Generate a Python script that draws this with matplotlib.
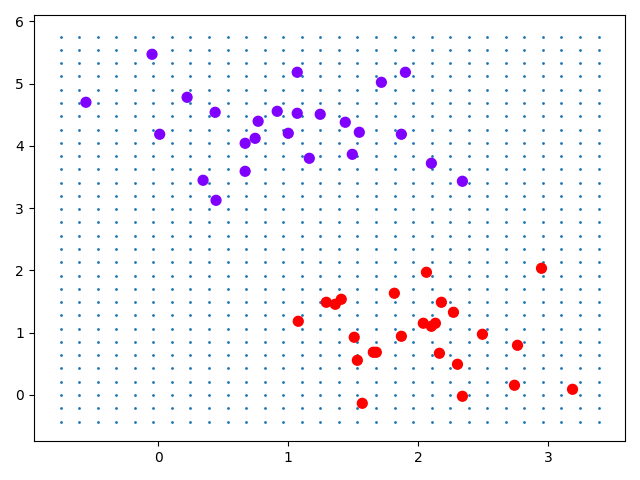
import numpy as np
import matplotlib
matplotlib.use("Agg")
import matplotlib.pyplot as plt

grid_x = [-0.753,-0.610,-0.467,-0.324,-0.182,-0.039,0.104,0.247,0.390,0.533,0.676,0.819,0.961,1.104,1.247,
          1.390,1.533,1.676,1.819,1.961,2.104,2.247,2.390,2.533,2.676,2.819,2.961,3.104,3.247,3.390]
grid_y = [-0.430,-0.217,-0.004,0.210,0.423,0.636,0.849,1.063,1.276,1.489,1.702,1.916,2.129,2.342,2.555,
          2.769,2.982,3.195,3.408,3.622,3.835,4.048,4.261,4.475,4.688,4.901,5.114,5.328,5.541,5.754]

purple_x = [-0.558,-0.049,0.010,0.221,0.437,0.344,0.444,0.668,0.668,0.745,0.768,0.915,1.000,1.069,1.069,
            1.162,1.246,1.439,1.493,1.547,1.717,1.871,1.902,2.102,2.341]
purple_y = [4.699,5.470,4.185,4.779,4.538,3.446,3.124,4.040,3.590,4.120,4.394,4.554,4.201,5.181,4.522,
            3.799,4.506,4.378,3.863,4.217,5.020,4.185,5.181,3.719,3.430]
red_x = [1.077,1.293,1.362,1.408,1.508,1.532,1.570,1.655,1.678,1.817,1.871,2.040,2.064,2.102,2.133,
         2.164,2.179,2.272,2.303,2.341,2.495,2.742,2.765,2.950,3.189]
red_y = [1.181,1.486,1.454,1.534,0.924,0.554,-0.137,0.683,0.683,1.631,0.940,1.149,1.968,1.100,1.149,
         0.667,1.486,1.325,0.490,-0.024,0.972,0.153,0.795,2.032,0.088]

fig, ax = plt.subplots(figsize=(6.4, 4.8), dpi=100)
xx, yy = np.meshgrid(grid_x, grid_y)
ax.scatter(xx.ravel(), yy.ravel(), s=1)
ax.scatter(purple_x + red_x, purple_y + red_y, c=[0]*len(purple_x) + [1]*len(red_x), s=50, cmap="rainbow")
ax.set_xlim(-0.961, 3.593)
ax.set_ylim(-0.747, 6.096)
ax.set_xticks([0, 1, 2, 3])
ax.set_yticks([0, 1, 2, 3, 4, 5, 6])
fig.tight_layout()
fig.savefig("out.png", dpi=100)
